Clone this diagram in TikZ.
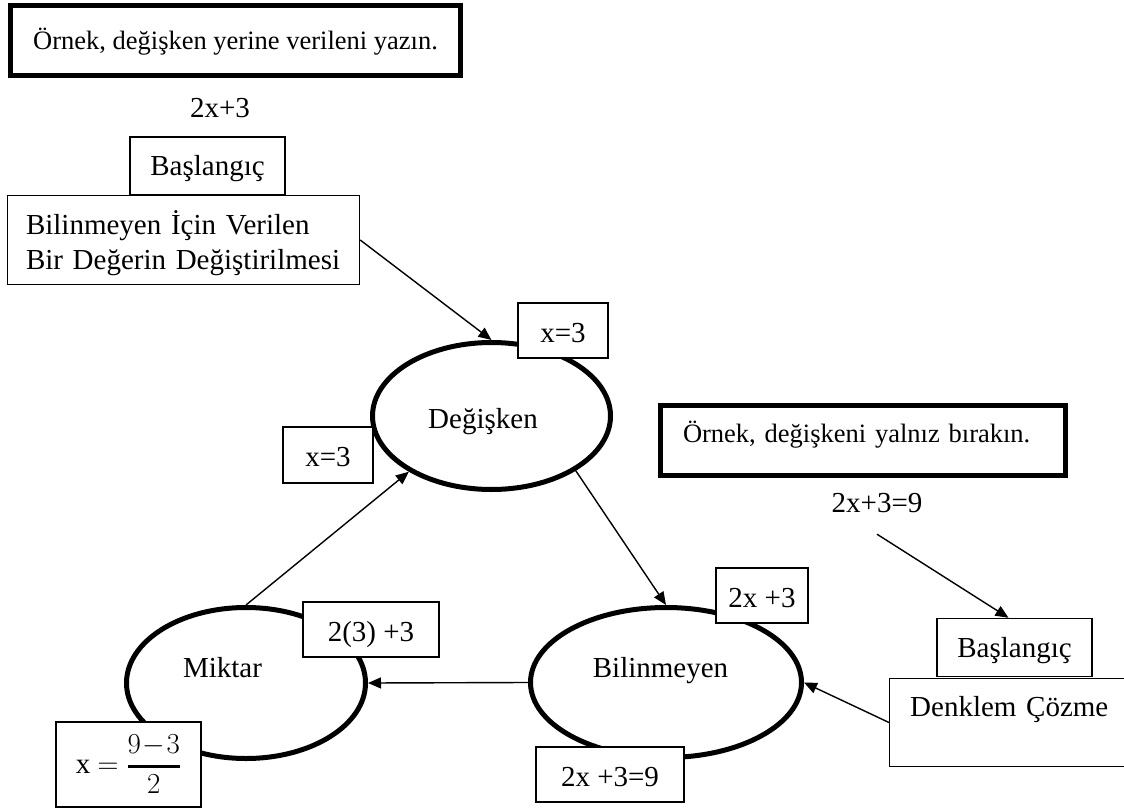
\RequirePackage{fix-cm}
\documentclass[tikz,border=0pt]{standalone}
\usepackage{fontspec}
\setmainfont{Liberation Serif}
\usetikzlibrary{arrows.meta,shapes.geometric}
\begin{document}
\begin{tikzpicture}[x=1pt,y=-1pt,
  every node/.style={font=\fontsize{29}{35}\selectfont},
  heavybox/.style={draw, line width=5pt, fill=white, inner sep=0pt,
    font=\fontsize{26.5}{32}\selectfont},
  thinbox/.style={draw, line width=1.4pt, fill=white, inner sep=0pt,
    text height=23pt, text depth=0pt},
  oval/.style={draw, ellipse, line width=5pt, inner sep=0pt},
  plain/.style={inner sep=0pt, text height=20pt, text depth=0pt},
  flow/.style={line width=1.4pt, -{Triangle[length=13pt,width=11pt]}}
]
\useasboundingbox (0,0) rectangle (1124,810);
\clip (0,0) rectangle (1124,810);

% the three concepts of the cycle
\node[oval, minimum width=238pt, minimum height=147pt, text height=24pt, text depth=0pt]
  (dg) at (491.5,416) {Değişken\hspace*{17pt}};
\node[oval, minimum width=239pt, minimum height=151pt, text height=20pt, text depth=32pt]
  (mk) at (246,683) {Miktar\hspace*{47pt}};
\node[oval, minimum width=271pt, minimum height=150pt, text height=20pt, text depth=31pt]
  (bl) at (666,682.5) {Bilinmeyen\hspace*{11pt}};

% upper left task
\node[heavybox, minimum width=450pt, minimum height=70pt, text height=18pt, text depth=0pt]
  (ex1) at (235.5,40.5) {Örnek, değişken yerine verileni yazın.};
\node[plain] (eq1) at (220,108) {2x+3};
\node[thinbox, minimum width=155pt, minimum height=58pt, text height=20pt]
  (bs1) at (207.5,166) {Başlangıç};
\node[thinbox, minimum width=352pt, minimum height=89pt, text width=315pt,
  align=left, text height=20pt, text depth=30pt]
  (bil) at (183.5,240) {Bilinmeyen İçin Verilen\\Bir Değerin Değiştirilmesi};

% upper right task
\node[heavybox, minimum width=405pt, minimum height=70pt, text width=360pt,
  align=left, text height=18pt, text depth=15pt]
  (ex2) at (863,440.5) {Örnek, değişkeni yalnız bırakın.};
\node[plain] (eq2) at (877,502) {2x+3=9};
\node[thinbox, minimum width=155pt, minimum height=58pt, text height=20pt]
  (bs2) at (1014.5,647.5) {Başlangıç};
\node[thinbox, minimum width=300pt, minimum height=88pt, text width=259pt,
  align=left, text height=20pt, text depth=33pt]
  (dk) at (1039.7,722.5) {Denklem Çözme};

% connectors
\draw[flow] (bil.east) -- (dg.north);
\draw[flow] (dg.-33) -- (bl.north);
\draw[flow] (bl.west) -- (mk.east);
\draw[flow] (mk.north) -- (dg.-146);
\draw[flow] (dk.west) -- (bl.east);
\draw[flow] ([yshift=-22pt]eq2.south) -- ([xshift=-6pt]bs2.north);

% values written on the cycle
\node[thinbox, minimum width=90pt, minimum height=55pt] (v1) at (563,330.5) {x=3};
\node[thinbox, minimum width=90pt, minimum height=56pt] (v2) at (328,455) {x=3};
\node[thinbox, minimum width=136pt, minimum height=55pt] (v3) at (371,629.5) {2(3) +3};
\node[thinbox, minimum width=145pt, minimum height=85pt, text height=, text depth=]
  (v4) at (128.5,764.5) {x $=\displaystyle{9\!-\!3 \above 2.5pt 2}$};
\node[thinbox, minimum width=92pt, minimum height=55pt] (v5) at (762,595.5) {2x +3};
\node[thinbox, minimum width=148pt, minimum height=55pt] (v6) at (610,774.5) {2x +3=9};
\end{tikzpicture}
\end{document}
